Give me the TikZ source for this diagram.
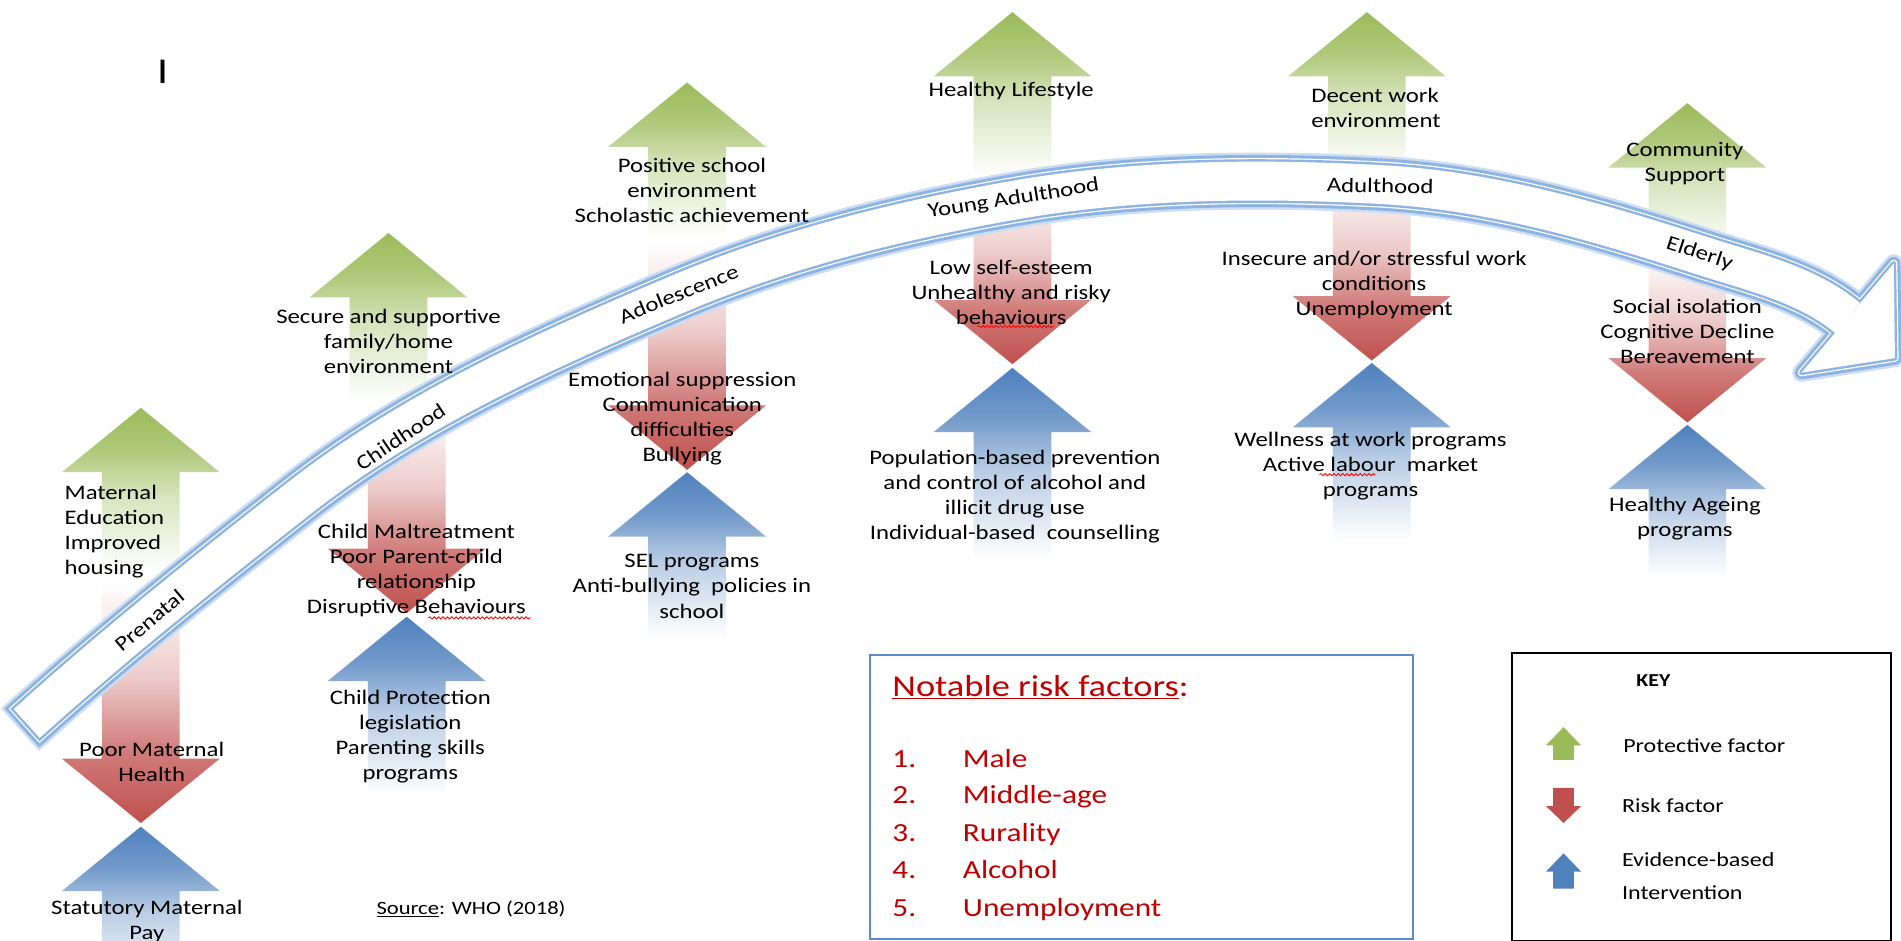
\documentclass[tikz,border=0pt]{standalone}
\usepackage{fontspec}
\setmainfont{Carlito}[FakeStretch=1.2]
\usetikzlibrary{decorations.pathmorphing}
\definecolor{grn}{RGB}{155,187,89}
\definecolor{rd}{RGB}{192,80,77}
\definecolor{blu}{RGB}{79,129,189}
\definecolor{bandblue}{RGB}{141,180,227}
\definecolor{bandglow}{RGB}{204,221,244}
\definecolor{dkred}{RGB}{192,0,0}
\definecolor{boxblue}{RGB}{91,139,204}
\pgfdeclareverticalshading{gfade}{100bp}{color(0bp)=(white); color(25bp)=(white); color(48bp)=(grn!40); color(62bp)=(grn!80); color(75bp)=(grn); color(100bp)=(grn)}
\pgfdeclareverticalshading{bfade}{100bp}{color(0bp)=(white); color(25bp)=(white); color(48bp)=(blu!40); color(62bp)=(blu!80); color(75bp)=(blu); color(100bp)=(blu)}
\pgfdeclareverticalshading{rfade}{100bp}{color(0bp)=(rd); color(25bp)=(rd); color(40bp)=(rd!75); color(55bp)=(rd!30); color(75bp)=(white); color(100bp)=(white)}
\newcommand{\UpArr}[4]{\shade[shading=#4] (#1,#2) -- ({#1+65},{#2+53}) -- ({#1+32},{#2+53}) -- ({#1+32},#3) -- ({#1-32},#3) -- ({#1-32},{#2+53}) -- ({#1-65},{#2+53}) -- cycle;}
\newcommand{\DnArr}[3]{\shade[shading=rfade] ({#1-32},#2) -- ({#1+32},#2) -- ({#1+32},{#3-53}) -- ({#1+65},{#3-53}) -- (#1,#3) -- ({#1-65},{#3-53}) -- ({#1-32},{#3-53}) -- cycle;}
\newcommand{\KeyUp}[4]{\fill[#4] (#1,#2) -- ({#1+14.5},{#2+15}) -- ({#1+8.5},{#2+15}) -- ({#1+8.5},#3) -- ({#1-8.5},#3) -- ({#1-8.5},{#2+15}) -- ({#1-14.5},{#2+15}) -- cycle;}
\newcommand{\KeyDn}[4]{\fill[#4] ({#1-8.5},#2) -- ({#1+8.5},#2) -- ({#1+8.5},{#3-14}) -- ({#1+14.5},{#3-14}) -- (#1,#3) -- ({#1-14.5},{#3-14}) -- ({#1-8.5},{#3-14}) -- cycle;}
\def\bandpath{(16.4,601) -- (22,596) .. controls (94,531) and (170.6,469.8) .. (247,410) .. controls (340,337.3) and (450.3,288.1) .. (559,242) .. controls (647,204.7) and (741,181.6) .. (835,165) .. controls (934.2,147.5) and (1036.4,146.8) .. (1137,152) .. controls (1226.7,156.7) and (1314.6,182.3) .. (1400,210) .. controls (1441.8,223.6) and (1488.3,233.7) .. (1522,262)}
\def\headpath{(1560,217) -- (1561,295) -- (1484,307) -- cycle}
\begin{document}
\begin{tikzpicture}[x=1pt,y=-1pt,
  txt/.style={font=\fontsize{17}{20.7}\selectfont, align=center, inner sep=0pt},
  stage/.style={font=\fontsize{17}{20}\selectfont, inner sep=0pt},
  lst/.style={font=\fontsize{21.5}{26}\selectfont, text=dkred, inner sep=0pt},
  keyt/.style={font=\fontsize{16.5}{20}\selectfont, inner sep=0pt},
  squig/.style={draw=red, line width=0.7pt, decorate, decoration={snake, amplitude=0.9pt, segment length=3.6pt}}]
\useasboundingbox (0,0) rectangle (1566,775);
\clip (0,0) rectangle (1566,775);
\fill[white] (0,0) rectangle (1566,775);

% column arrows
\UpArr{116}{336}{470}{gfade}
\DnArr{116}{480}{678}
\UpArr{116}{681}{810}{bfade}
\UpArr{320}{192}{330}{gfade}
\DnArr{335}{335}{505}
\UpArr{335}{508}{655}{bfade}
\UpArr{566}{68}{195}{gfade}
\DnArr{566}{200}{387}
\UpArr{566}{389}{525}{bfade}
\UpArr{834}{10}{145}{gfade}
\DnArr{834}{150}{300}
\UpArr{834}{303}{460}{bfade}
\UpArr{1126}{10}{140}{gfade}
\DnArr{1130}{145}{297}
\UpArr{1130}{299}{445}{bfade}
\UpArr{1390}{85}{205}{gfade}
\DnArr{1390}{210}{348}
\UpArr{1390}{350}{475}{bfade}

% life-course band
\draw[bandglow, line width=47pt] \bandpath;
\draw[bandglow, line width=15pt, line join=round] \headpath;
\draw[bandblue, line width=43pt, shorten <=2pt] \bandpath;
\draw[bandblue, line width=11pt, line join=round] \headpath;
\draw[white, line width=38pt, shorten <=4.5pt] \bandpath;
\draw[white, line width=6pt, line join=round] \headpath;
\draw[bandblue, line width=36pt, shorten <=5.5pt] \bandpath;
\draw[bandblue, line width=4pt, line join=round] \headpath;
\draw[white, line width=32pt, shorten <=7.5pt] \bandpath;
\fill[white] \headpath;

% stage labels
\node[stage, rotate=40] (s1) at (123,511) {Prenatal};
\node[stage, rotate=34] (s2) at (330,360) {Childhood};
\node[stage, rotate=22] (s3) at (559,242) {Adolescence};
\node[stage, rotate=9] (s4) at (835,164) {Young Adulthood};
\node[stage, rotate=-1] (s5) at (1137,153) {Adulthood};
\node[stage, rotate=-18] (s6) at (1400,209) {Elderly};

% column texts
\node[txt, anchor=west, align=left] (g1) at (53,438) {Maternal\\Education\\Improved\\housing};
\node[txt] (r1) at (125,628) {Poor Maternal\\Health};
\node[txt] (b1) at (121,759) {Statutory Maternal\\Pay};
\node[txt] (g2) at (320,281) {Secure and supportive\\family/home\\environment};
\node[txt] (r2) at (343,470) {Child Maltreatment\\Poor Parent-child\\relationship\\Disruptive Behaviours};
\node[txt] (b2) at (338,607) {Child Protection\\legislation\\Parenting skills\\programs};
\node[txt] (g3) at (570,157) {Positive school\\environment\\Scholastic achievement};
\node[txt] (r3) at (562,345) {Emotional suppression\\Communication\\difficulties\\Bullying};
\node[txt] (b3) at (570,483) {SEL programs\\Anti-bullying~ policies in\\school};
\node[txt] (g4) at (833,75) {Healthy Lifestyle};
\node[txt] (r4) at (833,241) {Low self-esteem\\Unhealthy and risky\\behaviours};
\node[txt] (b4) at (836,409) {Population-based prevention\\and control of alcohol and\\illicit drug use\\Individual-based~ counselling};
\node[txt, anchor=west, align=left] (g5) at (1080,89) {Decent work\\environment};
\node[txt] (r5) at (1132,235) {Insecure and/or stressful work\\conditions\\Unemployment};
\node[txt] (b5) at (1129,384) {Wellness at work programs\\Active labour~ market\\programs};
\node[txt] (g6) at (1388,135) {Community\\Support};
\node[txt] (r6) at (1390,273) {Social isolation\\Cognitive Decline\\Bereavement};
\node[txt] (b6) at (1388,427) {Healthy Ageing\\programs};

% spelling squiggles
\draw[squig] (353,509) -- (437,509);
\draw[squig] (805,269) -- (868,269);
\draw[squig] (1087,391) -- (1133,391);

% cursor mark
\node[font=\fontsize{30}{30}\selectfont, inner sep=0pt] (cursor) at (134,59) {I};

% source
\node[font=\fontsize{15.5}{18}\selectfont, anchor=base west, inner sep=0pt] (src) at (310,753) {\underline{Source}: WHO (2018)};

% notable risk factors box
\node[draw=boxblue, line width=1.4pt, minimum width=447pt, minimum height=234pt, inner sep=0pt, anchor=north west] (nbox) at (716,539) {};
\node[font=\fontsize{25}{30}\selectfont, text=dkred, anchor=base west, inner sep=0pt] (ntitle) at (735,574) {\underline{Notable risk factors}:};
\node[lst, anchor=base west] (n1) at (735,632) {1.};
\node[lst, anchor=base west] (i1) at (793,632) {Male};
\node[lst, anchor=base west] (n2) at (735,662) {2.};
\node[lst, anchor=base west] (i2) at (793,662) {Middle-age};
\node[lst, anchor=base west] (n3) at (735,693) {3.};
\node[lst, anchor=base west] (i3) at (793,693) {Rurality};
\node[lst, anchor=base west] (n4) at (735,724) {4.};
\node[lst, anchor=base west] (i4) at (793,724) {Alcohol};
\node[lst, anchor=base west] (n5) at (735,755) {5.};
\node[lst, anchor=base west] (i5) at (793,755) {Unemployment};

% key box
\node[draw=black, line width=1.4pt, minimum width=312pt, minimum height=237pt, inner sep=0pt, anchor=north west] (kbox) at (1245,537) {};
\node[font=\bfseries\fontsize{15}{18}\selectfont, inner sep=0pt] (ktitle) at (1362,561) {KEY};
\KeyUp{1288}{599}{626}{grn}
\KeyDn{1288}{649}{678}{rd}
\KeyUp{1288}{703}{732}{blu}
\node[keyt, anchor=base west] (k1) at (1337,620) {Protective factor};
\node[keyt, anchor=base west] (k2) at (1336,669) {Risk factor};
\node[keyt, anchor=base west] (k3) at (1336,714) {Evidence-based};
\node[keyt, anchor=base west] (k4) at (1336,741) {Intervention};
\end{tikzpicture}
\end{document}
